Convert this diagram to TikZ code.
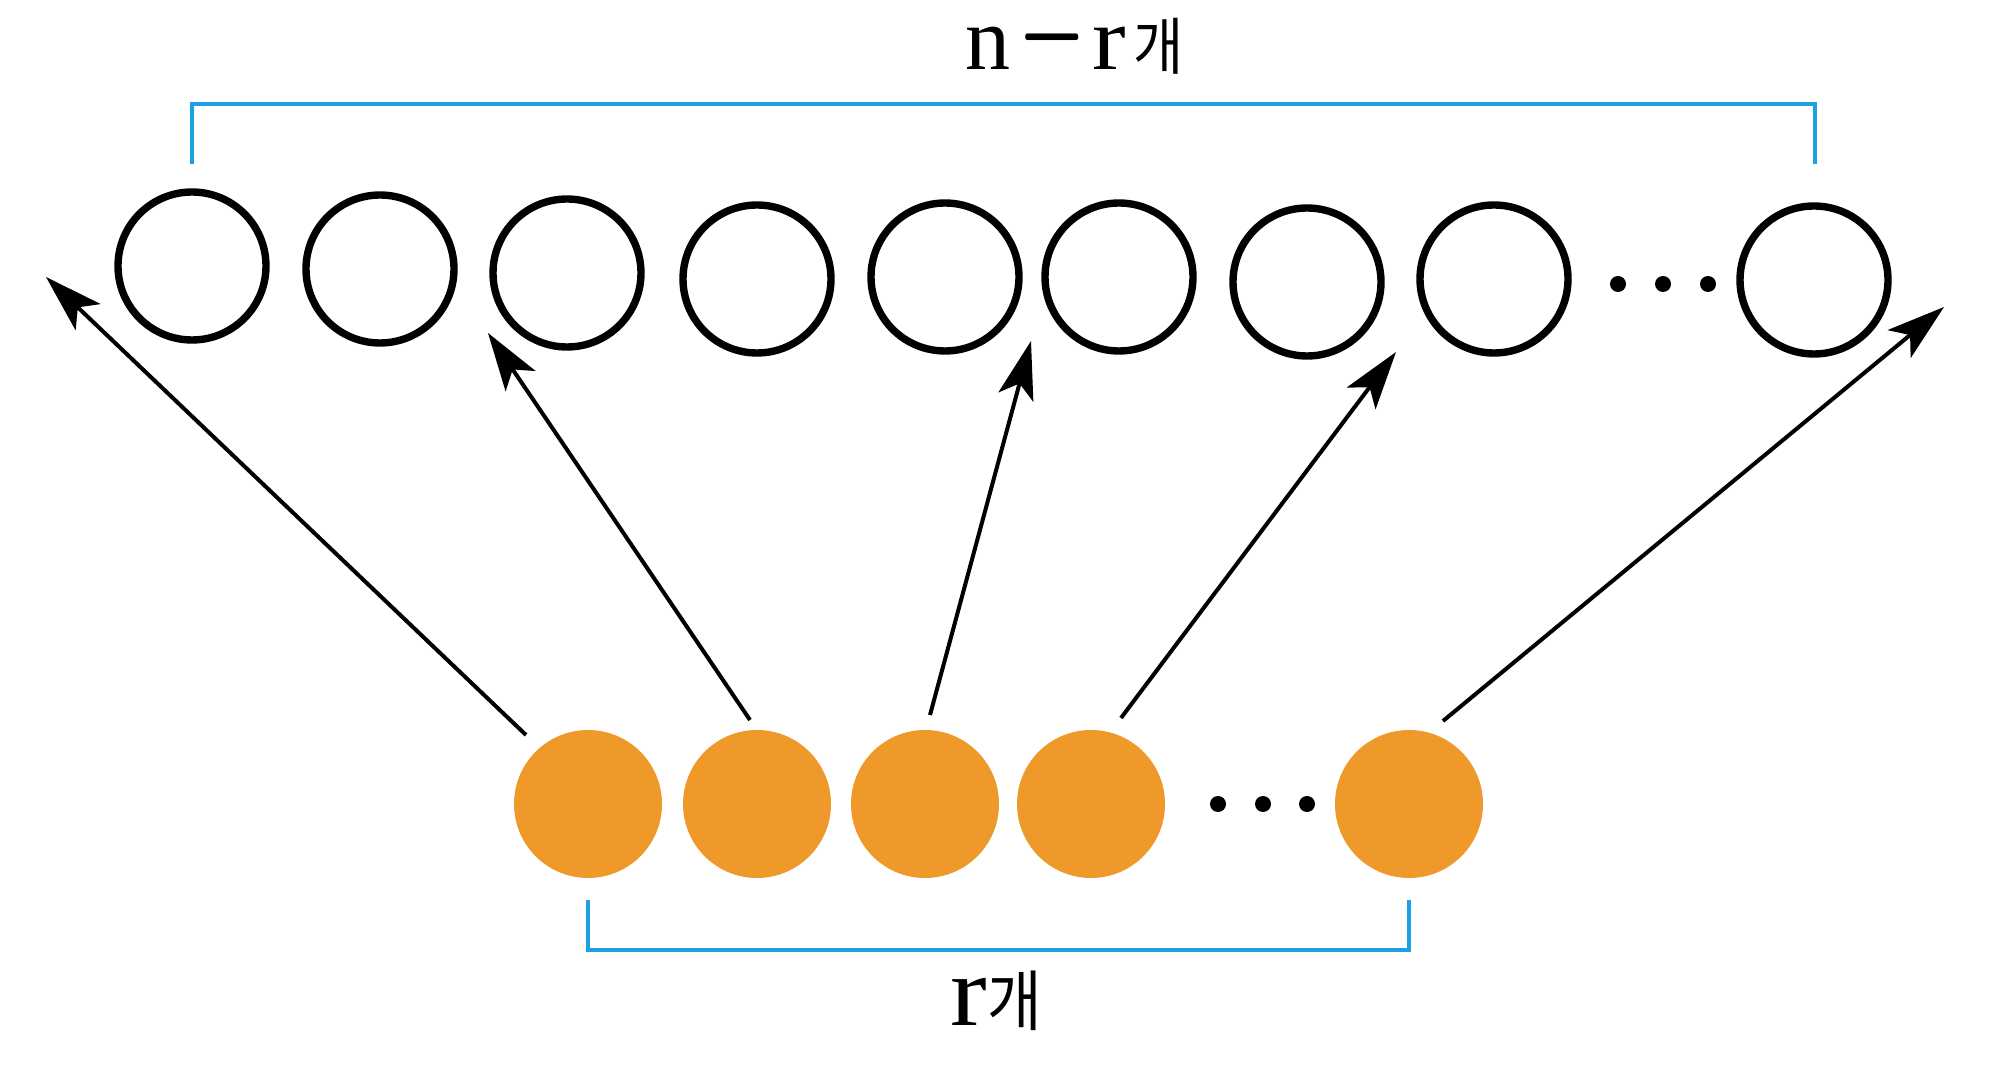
\documentclass[tikz,border=0pt]{standalone}
\usepackage{fontspec}
\setmainfont{Liberation Serif}
\newfontfamily\kr{Noto Sans CJK KR}
\usetikzlibrary{arrows.meta}
\definecolor{orng}{RGB}{240,153,43}
\definecolor{brk}{RGB}{27,161,226}
\begin{document}
\begin{tikzpicture}[x=0.5pt,y=-0.5pt,
  ring/.style={circle,draw,line width=3.7pt,minimum size=74pt,inner sep=0pt},
  ball/.style={circle,fill=orng,minimum size=74pt,inner sep=0pt},
  dot/.style={circle,fill=black,minimum size=8pt,inner sep=0pt},
  arr/.style={line width=2pt,-{Stealth[length=29pt,width=18pt,inset=7pt]}},
  bracket/.style={brk,line width=2pt},
  lbl/.style={anchor=base west,inner sep=0pt}]
\useasboundingbox (0,0) rectangle (2008,1068);
% top row
\node[ring] (t1) at (192,266) {};
\node[ring] (t2) at (380,269) {};
\node[ring] (t3) at (567,273) {};
\node[ring] (t4) at (757,279) {};
\node[ring] (t5) at (945,277) {};
\node[ring] (t6) at (1119,277) {};
\node[ring] (t7) at (1307,282) {};
\node[ring] (t8) at (1494,279) {};
\node[dot] (td1) at (1618,284) {};
\node[dot] (td2) at (1663,284) {};
\node[dot] (td3) at (1708,284) {};
\node[ring] (t9) at (1814,280) {};
% bottom row
\node[ball] (b1) at (588,804) {};
\node[ball] (b2) at (757,804) {};
\node[ball] (b3) at (925,804) {};
\node[ball] (b4) at (1091,804) {};
\node[dot] (bd1) at (1218,804) {};
\node[dot] (bd2) at (1263,804) {};
\node[dot] (bd3) at (1307,804) {};
\node[ball] (b5) at (1409,804) {};
% arrows
\coordinate (s1) at (526,735); \coordinate (e1) at (46,277);
\coordinate (s2) at (750,720); \coordinate (e2) at (488,333);
\coordinate (s3) at (930,715); \coordinate (e3) at (1031,341);
\coordinate (s4) at (1121,718); \coordinate (e4) at (1396,352);
\coordinate (s5) at (1443,721); \coordinate (e5) at (1944,307);
\draw[arr] (s1) -- (e1);
\draw[arr] (s2) -- (e2);
\draw[arr] (s3) -- (e3);
\draw[arr] (s4) -- (e4);
\draw[arr] (s5) -- (e5);
% brackets
\coordinate (tl) at (192,164); \coordinate (tr) at (1815,104); \coordinate (trb) at (1815,164);
\draw[bracket] (tl) |- (tr) -- (trb);
\coordinate (bl) at (588,900); \coordinate (br) at (1409,950); \coordinate (brt) at (1409,900);
\draw[bracket] (bl) |- (br) -- (brt);
% labels
\node[lbl] (toplbl) at (965,70) {\fontsize{45pt}{45pt}\selectfont n\hspace{3.9pt}\smash{\raisebox{-4.4pt}{\scalebox{4.34}[8.25]{\fontsize{10pt}{10pt}\selectfont$-$}}}\hspace{3.3pt}\scalebox{1.12}[1]{r}\hspace{4pt}{\kr\fontsize{31pt}{31pt}\selectfont\scalebox{0.88}[1]{개}}};
\node[lbl] (botlbl) at (950,1025) {\fontsize{50pt}{50pt}\selectfont\scalebox{1.1}[1]{r}{\kr\fontsize{33pt}{33pt}\selectfont\scalebox{0.9}[1]{개}}};
\end{tikzpicture}
\end{document}
